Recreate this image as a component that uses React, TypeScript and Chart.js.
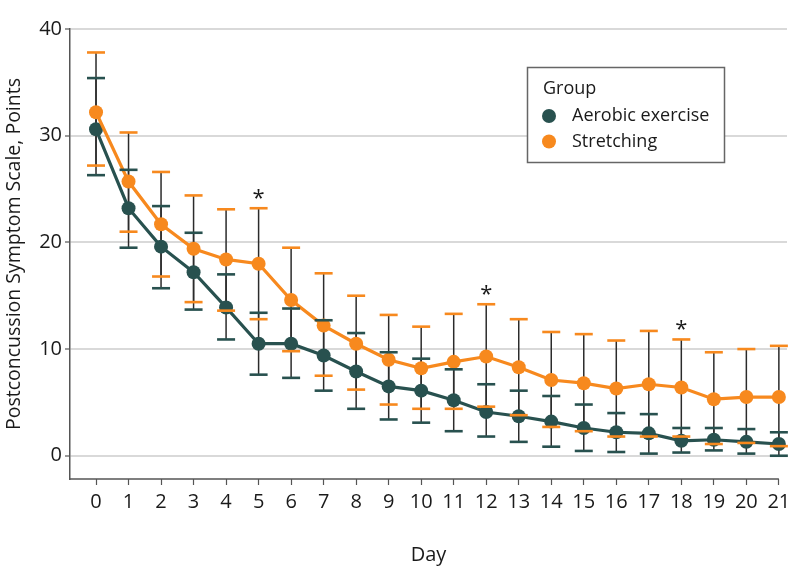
import React, { useEffect, useRef } from "react";
import { Chart, registerables } from "chart.js";

Chart.register(...registerables);

const days = [0, 1, 2, 3, 4, 5, 6, 7, 8, 9, 10, 11, 12, 13, 14, 15, 16, 17, 18, 19, 20, 21];
const aerobicMean = [30.6, 23.2, 19.6, 17.2, 13.9, 10.5, 10.5, 9.4, 7.9, 6.5, 6.1, 5.2, 4.1, 3.7, 3.2, 2.6, 2.2, 2.1, 1.4, 1.5, 1.3, 1.1];
const aerobicUpper = [35.4, 26.8, 23.4, 20.9, 17.0, 13.4, 13.8, 12.7, 11.5, 9.7, 9.1, 8.1, 6.7, 6.1, 5.6, 4.8, 4.0, 3.9, 2.6, 2.6, 2.5, 2.2];
const aerobicLower = [26.3, 19.5, 15.7, 13.7, 10.9, 7.6, 7.3, 6.1, 4.4, 3.4, 3.1, 2.3, 1.8, 1.3, 0.85, 0.45, 0.35, 0.2, 0.3, 0.5, 0.2, 0.0];
const stretchMean = [32.2, 25.7, 21.7, 19.4, 18.4, 18.0, 14.6, 12.2, 10.5, 9.0, 8.2, 8.8, 9.3, 8.3, 7.1, 6.8, 6.3, 6.7, 6.4, 5.3, 5.5, 5.5];
const stretchUpper = [37.8, 30.3, 26.6, 24.4, 23.1, 23.2, 19.5, 17.1, 15.0, 13.2, 12.1, 13.3, 14.2, 12.8, 11.6, 11.4, 10.8, 11.7, 10.9, 9.7, 10.0, 10.3];
const stretchLower = [27.2, 21.0, 16.8, 14.4, 13.6, 12.8, 9.8, 7.5, 6.2, 4.8, 4.4, 4.4, 4.6, 3.8, 2.7, 2.3, 1.8, 1.8, 1.8, 1.1, 1.2, 0.9];
const significantDays = [5, 12, 18];
const yTicks = [0, 10, 20, 30, 40];

const groupNames = ["Aerobic exercise", "Stretching"];
const legendTitle = "Group";
const xTitle = "Day";
const yTitle = "Postconcussion Symptom Scale, Points";

const TEAL = "#28514f";
const ORANGE = "#f7891e";
const FONT = "'Open Sans', 'Noto Sans', sans-serif";

const errorBars = [
  { upper: aerobicUpper, lower: aerobicLower, color: TEAL },
  { upper: stretchUpper, lower: stretchLower, color: ORANGE },
];

const errorBarPlugin = {
  id: "errorBars",
  beforeDatasetsDraw(chart: any) {
    const { ctx, scales } = chart;
    const xs = scales.x;
    const ys = scales.y;
    ctx.save();
    ctx.strokeStyle = "#2b2b2b";
    ctx.lineWidth = 1.5;
    errorBars.forEach((eb) => {
      days.forEach((d, i) => {
        const x = xs.getPixelForValue(d);
        ctx.beginPath();
        ctx.moveTo(x, ys.getPixelForValue(eb.upper[i]));
        ctx.lineTo(x, ys.getPixelForValue(eb.lower[i]));
        ctx.stroke();
      });
    });
    ctx.restore();
  },
  afterDatasetsDraw(chart: any) {
    const { ctx, scales } = chart;
    const xs = scales.x;
    const ys = scales.y;
    ctx.save();
    ctx.lineWidth = 2.6;
    errorBars.forEach((eb) => {
      ctx.strokeStyle = eb.color;
      days.forEach((d, i) => {
        const x = xs.getPixelForValue(d);
        [eb.upper[i], eb.lower[i]].forEach((v) => {
          const y = ys.getPixelForValue(v);
          ctx.beginPath();
          ctx.moveTo(x - 9, y);
          ctx.lineTo(x + 9, y);
          ctx.stroke();
        });
      });
    });
    // asterisks
    ctx.fillStyle = "#1a1a1a";
    ctx.font = `22px ${FONT}`;
    ctx.textAlign = "center";
    ctx.textBaseline = "alphabetic";
    significantDays.forEach((d) => {
      const i = days.indexOf(d);
      const x = xs.getPixelForValue(d);
      const y = ys.getPixelForValue(stretchUpper[i]);
      ctx.fillText("*", x, y - 3);
    });
    ctx.restore();
  },
  afterDraw(chart: any) {
    const { ctx, scales } = chart;
    const xs = scales.x;
    const ys = scales.y;
    ctx.save();
    // x axis line
    ctx.strokeStyle = "#555";
    ctx.lineWidth = 1.5;
    ctx.beginPath();
    ctx.moveTo(chart.chartArea.left, ys.bottom);
    ctx.lineTo(xs.getPixelForValue(days[days.length - 1]), ys.bottom);
    ctx.stroke();
    // legend
    const bx = 527.5, by = 67.5, bw = 197, bh = 95;
    ctx.fillStyle = "#ffffff";
    ctx.fillRect(bx, by, bw, bh);
    ctx.strokeStyle = "#666";
    ctx.lineWidth = 1.5;
    ctx.strokeRect(bx, by, bw, bh);
    ctx.fillStyle = "#1a1a1a";
    ctx.font = `18px ${FONT}`;
    ctx.textAlign = "left";
    ctx.textBaseline = "middle";
    ctx.fillText(legendTitle, 543, 89);
    const colors = [TEAL, ORANGE];
    groupNames.forEach((name, k) => {
      const y = 116 + k * 25.5;
      ctx.fillStyle = colors[k];
      ctx.beginPath();
      ctx.arc(549, y, 7, 0, Math.PI * 2);
      ctx.fill();
      ctx.fillStyle = "#1a1a1a";
      ctx.fillText(name, 572, y);
    });
    ctx.restore();
  },
};

export default function App() {
  const ref = useRef<HTMLCanvasElement | null>(null);
  useEffect(() => {
    if (!ref.current) return;
    const chart = new Chart(ref.current, {
      type: "line",
      data: {
        datasets: [
          {
            label: groupNames[0],
            data: days.map((d, i) => ({ x: d, y: aerobicMean[i] })),
            borderColor: TEAL,
            backgroundColor: TEAL,
            pointBackgroundColor: TEAL,
            pointBorderColor: TEAL,
            pointRadius: 7,
            pointBorderWidth: 0,
            borderWidth: 3.2,
            order: 1,
          },
          {
            label: groupNames[1],
            data: days.map((d, i) => ({ x: d, y: stretchMean[i] })),
            borderColor: ORANGE,
            backgroundColor: ORANGE,
            pointBackgroundColor: ORANGE,
            pointBorderColor: ORANGE,
            pointRadius: 7,
            pointBorderWidth: 0,
            borderWidth: 3.2,
            order: 0,
          },
        ],
      },
      options: {
        responsive: false,
        animation: false,
        layout: { padding: { top: 29, right: 6, left: 0, bottom: 0 } },
        plugins: { legend: { display: false }, tooltip: { enabled: false } },
        scales: {
          x: {
            type: "linear",
            min: -0.8,
            max: 21.25,
            afterBuildTicks: (s: any) => {
              s.ticks = days.map((d) => ({ value: d }));
            },
            afterFit: (s: any) => {
              s.height = 109;
              s.paddingLeft = 0;
              s.paddingRight = 0;
            },
            grid: {
              display: true,
              drawOnChartArea: false,
              drawTicks: true,
              tickLength: 6,
              tickColor: "#555",
              tickWidth: 1.2,
            },
            border: { display: false },
            ticks: {
              autoSkip: false,
              maxRotation: 0,
              padding: 5,
              color: "#1a1a1a",
              font: { family: FONT, size: 20 },
              callback: (v: any) => String(v),
            },
            title: {
              display: true,
              text: xTitle,
              color: "#1a1a1a",
              font: { family: FONT, size: 20 },
              padding: { top: 0, bottom: 21 },
            },
          },
          y: {
            type: "linear",
            min: -2.18,
            max: 40,
            afterBuildTicks: (s: any) => {
              s.ticks = yTicks.map((v) => ({ value: v }));
            },
            afterFit: (s: any) => {
              s.width = 70;
              s.paddingTop = 0;
              s.paddingBottom = 0;
            },
            grid: {
              color: "#d9d9d9",
              lineWidth: 2,
              drawTicks: true,
              tickLength: 5,
              tickColor: "#555",
              tickWidth: 1.2,
            },
            border: { display: true, color: "#555", width: 1.5 },
            ticks: {
              padding: 3,
              color: "#1a1a1a",
              font: { family: FONT, size: 20 },
              callback: (v: any) => String(v),
            },
            title: {
              display: true,
              text: yTitle,
              color: "#1a1a1a",
              font: { family: FONT, size: 19.5 },
              padding: { top: 3, bottom: 0 },
            },
          },
        },
      },
      plugins: [errorBarPlugin],
    } as any);
    return () => chart.destroy();
  }, []);
  return (
    <div style={{ position: "fixed", left: 0, top: 0, width: 794, height: 588, background: "#fff" }}>
      <canvas ref={ref} width={794} height={588} style={{ display: "block" }} />
    </div>
  );
}
